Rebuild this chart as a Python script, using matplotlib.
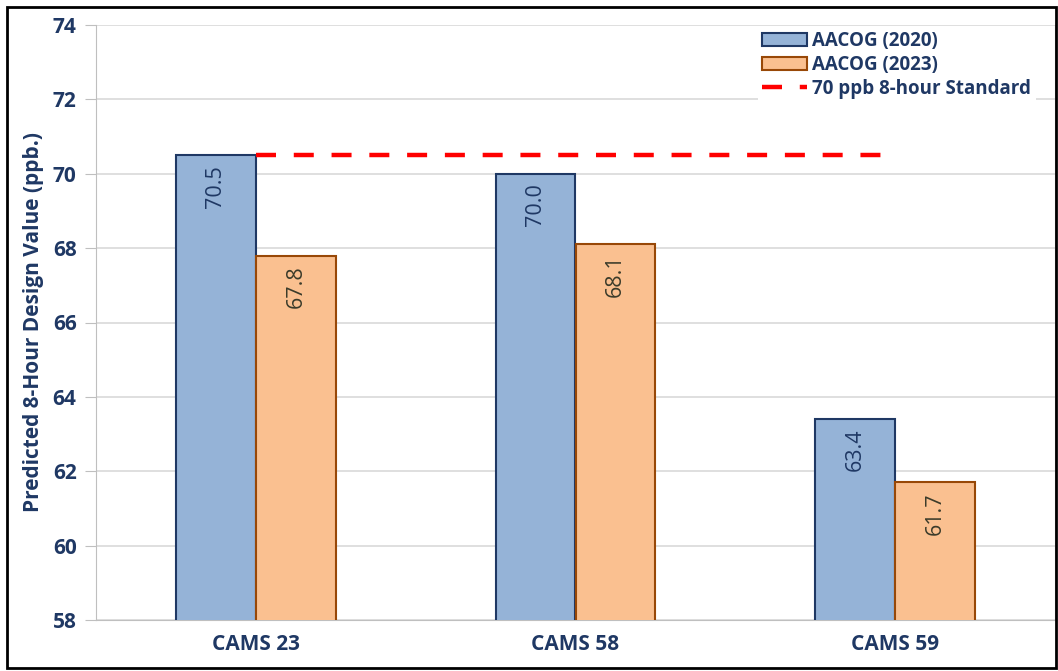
import matplotlib.pyplot as plt
import numpy as np
from matplotlib.patches import Rectangle

# ======================
# DATA
# ======================
sites = ["CAMS 23", "CAMS 58", "CAMS 59"]
dv_2020 = [70.5, 70.0, 63.4]
dv_2023 = [67.8, 68.1, 61.7]
standard = [70.5, 70.5, 70.5]
y_ticks = [58, 60, 62, 64, 66, 68, 70, 72, 74]

navy = "#1F3864"
plt.rcParams['font.family'] = ['Open Sans', 'DejaVu Sans']

# ======================
# FIGURE
# ======================
fig = plt.figure(figsize=(10.58, 6.71), dpi=100)
ax = fig.add_axes([96 / 1058, 1 - 620 / 671, (1055 - 96) / 1058, (620 - 25) / 671])

x = np.arange(len(sites))
w = 0.25
b1 = ax.bar(x - w / 2, dv_2020, w, color="#95B3D7", edgecolor=navy, linewidth=1.5,
            label="AACOG (2020)", zorder=3)
b2 = ax.bar(x + w / 2, dv_2023, w, color="#FAC090", edgecolor="#984807", linewidth=1.5,
            label="AACOG (2023)", zorder=3)
ln, = ax.plot(x, standard, color="#FF0000", linewidth=3.2, dashes=(4.5, 4),
              label="70 ppb 8-hour Standard", zorder=4)

# bar value labels
for bars, vals, col in [(b1, dv_2020, navy), (b2, dv_2023, "#3B3B2A")]:
    for r, v in zip(bars, vals):
        ax.annotate(f"{v:.1f}", (r.get_x() + r.get_width() / 2, v),
                    xytext=(0, -7), textcoords="offset points",
                    rotation=90, ha="center", va="top", fontsize=15.5,
                    color=col, zorder=5)

# ======================
# AXES
# ======================
ax.set_ylim(58, 74)
ax.set_xlim(-0.5, 2.5)
ax.set_yticks(y_ticks)
ax.set_yticklabels([str(t) for t in y_ticks], fontsize=15, fontweight="bold", color=navy)
ax.set_xticks(x)
ax.set_xticklabels(sites, fontsize=15, fontweight="bold", color=navy)
ax.tick_params(axis="x", length=0, pad=10)
ax.tick_params(axis="y", length=8, color="#BFBFBF", pad=6)
ax.grid(axis="y", color="#D9D9D9", linewidth=1.2, zorder=0)
for s in ["left", "bottom", "right"]:
    ax.spines[s].set_color("#BFBFBF")
ax.spines["top"].set_visible(False)
ax.set_ylabel("Predicted 8-Hour Design Value (ppb.)", fontsize=15,
              fontweight="bold", color=navy, labelpad=6)

leg = ax.legend(handles=[b1, b2, ln], loc="upper left", bbox_to_anchor=(0.69, 0.997),
                frameon=True, fontsize=13.5, handlelength=2.4, handletextpad=0.25,
                labelspacing=0.2, borderaxespad=0, borderpad=0.25)
leg.get_frame().set_edgecolor("none")
leg.get_frame().set_facecolor("white")
leg.get_frame().set_alpha(1)
for t in leg.get_texts():
    t.set_color(navy)
    t.set_fontweight("bold")

# outer black border
fig.patches.append(Rectangle((7 / 1058, 3 / 671), 1049 / 1058, 661 / 671,
                             transform=fig.transFigure, fill=False,
                             edgecolor="black", linewidth=2))

fig.savefig("out.png", dpi=100)
